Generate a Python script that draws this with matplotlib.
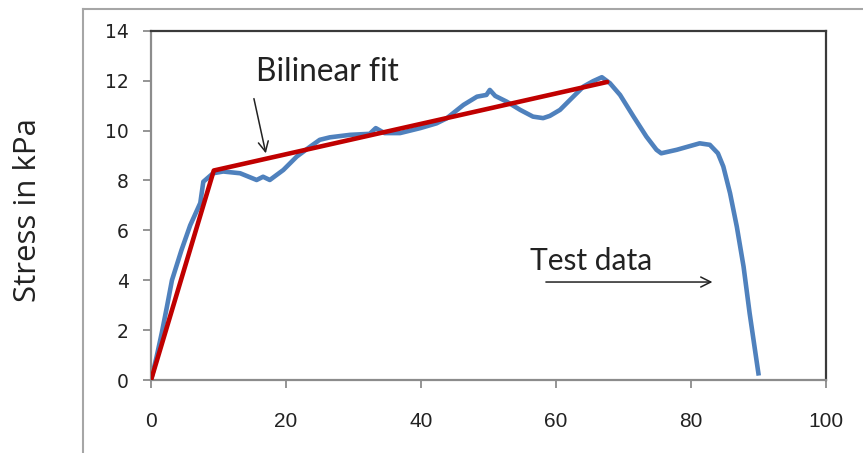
import matplotlib
matplotlib.use('Agg')
import matplotlib.pyplot as plt
from matplotlib.lines import Line2D

# test data
strain = [0, 0.8, 1.6, 2.4, 3.1, 4.5, 5.8, 7.3, 7.75, 9.2, 10.7, 13.2, 15.65, 16.6, 17.6, 19.6,
          21.6, 23.6, 25.0, 26.5, 29.5, 32.4, 33.3, 34.6, 36.9, 39.9, 42.3, 43.8, 46.3,
          48.3, 49.7, 50.2, 51.0, 52.7, 54.7, 56.6, 58.1, 59.1, 60.6, 62.6, 64.1, 65.5,
          66.8, 68.0, 69.5, 71.5, 73.4, 74.9, 75.6, 77.9, 81.3, 82.8, 84.0, 84.8, 85.8,
          86.8, 87.8, 88.7, 90.0]
stress = [0, 0.9, 1.9, 3.0, 4.0, 5.2, 6.2, 7.1, 7.95, 8.29, 8.36, 8.29, 8.02, 8.15, 8.02, 8.42,
          8.96, 9.36, 9.63, 9.73, 9.83, 9.87, 10.1, 9.9, 9.9, 10.1, 10.29, 10.49, 11.03,
          11.36, 11.43, 11.63, 11.39, 11.16, 10.83, 10.56, 10.5, 10.59, 10.83, 11.37, 11.77,
          11.98, 12.14, 11.9, 11.43, 10.56, 9.76, 9.23, 9.09, 9.23, 9.49, 9.43, 9.09, 8.56,
          7.49, 6.15, 4.55, 2.68, 0.27]

# bilinear fit
fit_x = [0, 9.3, 67.6]
fit_y = [0, 8.4, 11.95]

xticks = [0, 20, 40, 60, 80, 100]
yticks = [0, 2, 4, 6, 8, 10, 12, 14]

fig = plt.figure(figsize=(8.63, 4.53), dpi=100)
ax = fig.add_axes([0.175, 0.161, 0.782, 0.771])

ax.plot(strain, stress, color='#4F81BD', lw=3.3, solid_joinstyle='round', zorder=2)
ax.plot(fit_x, fit_y, color='#C00000', lw=3.3, solid_capstyle='round', zorder=3)

ax.set_xlim(0, 100)
ax.set_ylim(0, 14)
ax.set_xticks(xticks)
ax.set_yticks(yticks)

for s in ['top', 'right']:
    ax.spines[s].set_color('#3a3a3a')
    ax.spines[s].set_linewidth(1.6)
for s in ['left', 'bottom']:
    ax.spines[s].set_color('#8c8c8c')
    ax.spines[s].set_linewidth(1.6)

ax.tick_params(axis='both', direction='out', length=6, width=1.3, color='#8c8c8c')
ax.tick_params(axis='y', pad=10, labelsize=13.5, labelcolor='#222222')
ax.tick_params(axis='x', pad=17, labelcolor='#222222')
for lab in ax.get_xticklabels():
    lab.set_family(['Liberation Sans', 'DejaVu Sans'])
    lab.set_fontsize(15)

# annotations
ax.text(15.6, 11.97, 'Bilinear fit', family=['Lato', 'DejaVu Sans'], fontsize=22.8,
        color='#222222', ha='left', va='baseline')
ax.annotate('', xy=(17.1, 8.98), xytext=(15.16, 11.39),
            arrowprops=dict(arrowstyle='->', color='#222222', lw=1.1, mutation_scale=18))
ax.text(56.1, 4.41, 'Test data', family=['Lato', 'DejaVu Sans'], fontsize=21.6,
        color='#222222', ha='left', va='baseline')
ax.annotate('', xy=(83.6, 3.93), xytext=(58.1, 3.93),
            arrowprops=dict(arrowstyle='->', color='#222222', lw=1.1, mutation_scale=18))

fig.text(28 / 863, 1 - 210 / 453, 'Stress in kPa', rotation=90, ha='center', va='center',
         family=['Open Sans', 'DejaVu Sans'], fontsize=22.5, color='#222222')

# outer chart-area border
fig.add_artist(Line2D([83 / 863, 1], [1 - 9 / 453] * 2, transform=fig.transFigure,
                      color='#a6a6a6', lw=1.5))
fig.add_artist(Line2D([83 / 863] * 2, [0, 1 - 9 / 453], transform=fig.transFigure,
                      color='#a6a6a6', lw=1.5))

fig.savefig('out.png', dpi=100)
